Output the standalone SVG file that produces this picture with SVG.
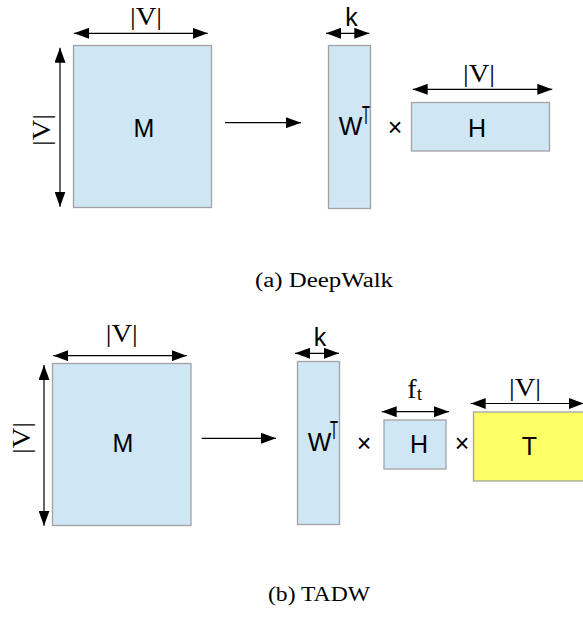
<svg xmlns="http://www.w3.org/2000/svg" width="583" height="618" viewBox="0 0 583 618">
<style>
.mat{fill:#cfe6f4;stroke:#a3a3a3;stroke-width:1.3}
.yel{fill:#ffff66;stroke:#a3a3a3;stroke-width:1.3}
.sans{font-family:"Liberation Sans",Arial,sans-serif;font-size:25px;fill:#000;text-anchor:middle}
.ser{font-family:"Liberation Serif","Times New Roman",serif;fill:#000;text-anchor:middle}
.dim{stroke:#000;stroke-width:1.2;fill:none;marker-start:url(#ah);marker-end:url(#ah)}
.one{stroke:#000;stroke-width:1.2;fill:none;marker-end:url(#ah)}
</style>
<defs>
<marker id="ah" viewBox="0 0 15 11" refX="15" refY="5.5" markerWidth="15" markerHeight="11" markerUnits="userSpaceOnUse" orient="auto-start-reverse">
<path d="M0,0 L15,5.5 L0,11 Z" fill="#000"/>
</marker>
</defs>
<rect width="583" height="618" fill="#fff"/>

<!-- Panel (a) -->
<g id="a-M">
<rect class="mat" x="73.5" y="45.5" width="138" height="162"/>
<text class="sans" x="144" y="137">M</text>
<text class="ser" x="146" y="25" font-size="26" textLength="32" lengthAdjust="spacingAndGlyphs">|V|</text>
<text class="ser" font-size="26" textLength="32" lengthAdjust="spacingAndGlyphs" transform="translate(50,130) rotate(-90)">|V|</text>
</g>
<g id="a-W">
<rect class="mat" x="328.5" y="45.5" width="42" height="163"/>
<text class="sans" x="350.5" y="135">W</text>
<text class="sans" x="366" y="124" font-size="23" textLength="8" lengthAdjust="spacingAndGlyphs">T</text>
<text class="sans" x="351.5" y="26">k</text>
</g>
<text class="sans" x="395" y="136" font-size="18">×</text>
<g id="a-H">
<rect class="mat" x="411.5" y="102.5" width="138" height="48.5"/>
<text class="sans" x="477" y="137">H</text>
<text class="ser" x="479" y="82" font-size="26" textLength="32" lengthAdjust="spacingAndGlyphs">|V|</text>
</g>
<text class="ser" x="324" y="286.5" font-size="20" textLength="138" lengthAdjust="spacingAndGlyphs">(a)  DeepWalk</text>

<!-- Panel (b) -->
<g id="b-M">
<rect class="mat" x="52.5" y="363.5" width="138.5" height="162"/>
<text class="sans" x="123" y="452">M</text>
<text class="ser" x="121.7" y="342" font-size="26" textLength="32" lengthAdjust="spacingAndGlyphs">|V|</text>
<text class="ser" font-size="26" textLength="32" lengthAdjust="spacingAndGlyphs" transform="translate(30,438) rotate(-90)">|V|</text>
</g>
<g id="b-W">
<rect class="mat" x="297.5" y="361.5" width="42" height="163"/>
<text class="sans" x="319.5" y="451">W</text>
<text class="sans" x="334" y="439" font-size="23" textLength="8" lengthAdjust="spacingAndGlyphs">T</text>
<text class="sans" x="320" y="346">k</text>
</g>
<text class="sans" x="364" y="452" font-size="18">×</text>
<g id="b-H">
<rect class="mat" x="384" y="420" width="62" height="49"/>
<text class="sans" x="419" y="453">H</text>
<text class="ser" x="412" y="398.3" font-size="28">f</text>
<text class="ser" x="419.5" y="400" font-size="18">t</text>
</g>
<text class="sans" x="462" y="452" font-size="18">×</text>
<g id="b-T">
<rect class="yel" x="473.5" y="412" width="115" height="69"/>
<text class="sans" x="529.5" y="455">T</text>
<text class="ser" x="525" y="396" font-size="26" textLength="32" lengthAdjust="spacingAndGlyphs">|V|</text>
</g>
<text class="ser" x="319" y="601" font-size="20" textLength="102" lengthAdjust="spacingAndGlyphs">(b)  TADW</text>

<g id="connectors">
<line class="dim" x1="74" y1="33.3" x2="207.7" y2="33.3"/>
<line class="dim" x1="60" y1="47.7" x2="60" y2="206.7"/>
<line class="one" x1="225" y1="122.7" x2="301" y2="122.7"/>
<line class="dim" x1="326" y1="33.3" x2="369.3" y2="33.3"/>
<line class="dim" x1="412.7" y1="89.3" x2="552.3" y2="89.3"/>
<line class="dim" x1="53.3" y1="355.7" x2="186.7" y2="355.7"/>
<line class="dim" x1="44" y1="365" x2="44" y2="525.7"/>
<line class="one" x1="201.7" y1="438.3" x2="276" y2="438.3"/>
<line class="dim" x1="295" y1="353.3" x2="339" y2="353.3"/>
<line class="dim" x1="381.7" y1="411.7" x2="449" y2="411.7"/>
<line class="dim" x1="470.7" y1="403.5" x2="584" y2="403.5"/>
</g>
</svg>
